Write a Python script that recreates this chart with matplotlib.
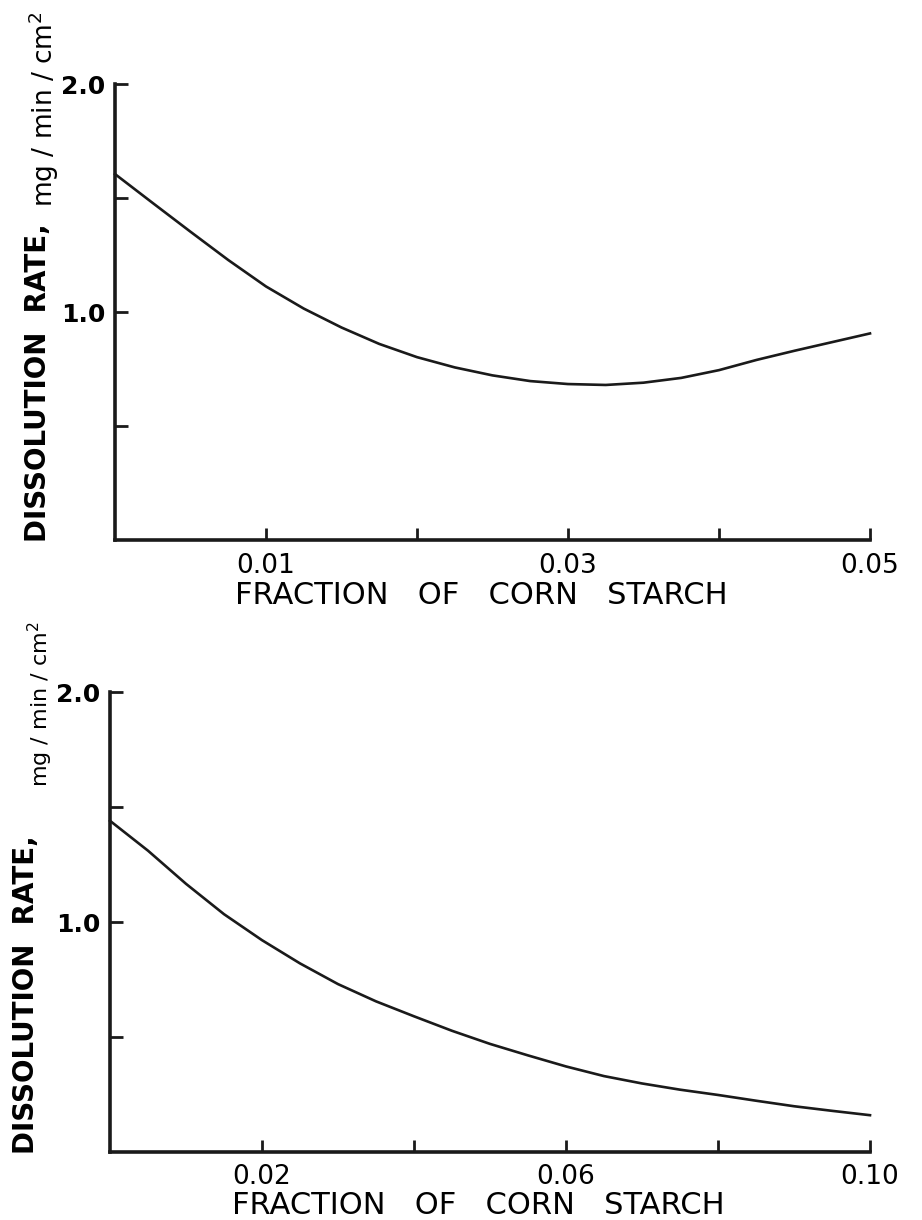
import matplotlib
matplotlib.use("Agg")
import matplotlib.pyplot as plt

# top panel: fraction of corn starch up to 0.05
top_x = [0.000, 0.0025, 0.005, 0.0075, 0.010, 0.0125, 0.015, 0.0175, 0.020, 0.0225,
         0.025, 0.0275, 0.030, 0.0325, 0.035, 0.0375, 0.040, 0.0425, 0.045, 0.0475, 0.050]
top_y = [1.605, 1.478, 1.352, 1.228, 1.112, 1.015, 0.932, 0.86, 0.802, 0.757,
         0.722, 0.697, 0.684, 0.680, 0.690, 0.711, 0.745, 0.79, 0.83, 0.868, 0.906]

# bottom panel: fraction of corn starch up to 0.10
bot_x = [0.000, 0.005, 0.010, 0.015, 0.020, 0.025, 0.030, 0.035, 0.040, 0.045,
         0.050, 0.055, 0.060, 0.065, 0.070, 0.075, 0.080, 0.085, 0.090, 0.095, 0.100]
bot_y = [1.44, 1.31, 1.166, 1.034, 0.921, 0.82, 0.73, 0.655, 0.59, 0.527,
         0.47, 0.42, 0.372, 0.33, 0.298, 0.271, 0.248, 0.223, 0.199, 0.179, 0.16]

y_ticks = [0.5, 1.0, 1.5, 2.0]
y_ticklabels = ["", "1.0", "", "2.0"]
top_xticks = [0.01, 0.02, 0.03, 0.04, 0.05]
top_xticklabels = ["0.01", "", "0.03", "", "0.05"]
bot_xticks = [0.02, 0.04, 0.06, 0.08, 0.10]
bot_xticklabels = ["0.02", "", "0.06", "", "0.10"]

xlabel = "FRACTION   OF   CORN   STARCH"
ylabel = "DISSOLUTION  RATE,"
unit = "mg / min / cm$^2$"

plt.rcParams['font.family'] = ['DejaVu Sans']
plt.rcParams['mathtext.fontset'] = 'dejavusans'

fig = plt.figure(figsize=(9.22, 12.2), dpi=100)
ax1 = fig.add_axes([115 / 922, 1 - 540 / 1220, 755 / 922, 456 / 1220])
ax2 = fig.add_axes([110 / 922, 1 - 1152 / 1220, 760 / 922, 460 / 1220])


def style(ax, xmax, xticks, xticklabels, xlabel_y, big_x, unit_x, unit_y, unit_size):
    ax.set_xlim(0, xmax)
    ax.set_ylim(0, 2.0)
    for s in ["top", "right"]:
        ax.spines[s].set_visible(False)
    for s in ["left", "bottom"]:
        ax.spines[s].set_linewidth(2.6)
        ax.spines[s].set_color("#1a1a1a")
    ax.set_yticks(y_ticks)
    ax.set_yticklabels(y_ticklabels, fontsize=18, fontweight="bold")
    ax.set_xticks(xticks)
    ax.set_xticklabels(xticklabels, fontsize=19)
    ax.tick_params(axis="both", direction="in", length=9, width=2, color="#1a1a1a")
    ax.tick_params(axis="y", pad=7)
    ax.tick_params(axis="x", pad=9)
    ax.set_xlabel(xlabel, fontsize=22, va="center")
    ax.xaxis.set_label_coords(0.485, xlabel_y)
    ax.text(big_x, -0.005, ylabel, rotation=90, ha="center", va="bottom",
            fontsize=20, fontweight="bold", transform=ax.transAxes)
    ax.text(unit_x, unit_y, unit, rotation=90, ha="center", va="bottom",
            fontsize=unit_size, transform=ax.transAxes)


ax1.plot(top_x, top_y, color="#1a1a1a", linewidth=1.9, clip_on=False,
         solid_joinstyle="round")
style(ax1, 0.05, top_xticks, top_xticklabels, -0.122, -0.102, -0.094, 0.73, 19)

ax2.plot(bot_x, bot_y, color="#1a1a1a", linewidth=1.9, clip_on=False,
         solid_joinstyle="round")
style(ax2, 0.10, bot_xticks, bot_xticklabels, -0.117, -0.11, -0.092, 0.793, 16)

fig.savefig("out.png", dpi=100, facecolor="white")
